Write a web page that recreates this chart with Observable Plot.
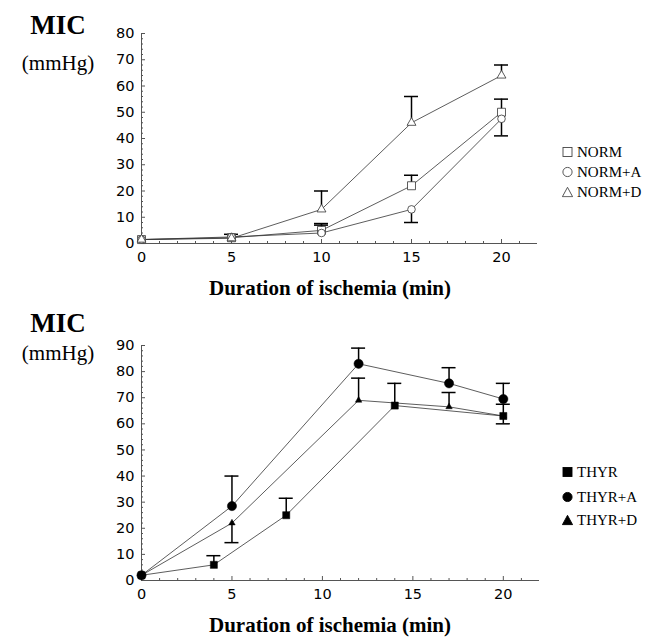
<!DOCTYPE html>
<html><head><meta charset="utf-8">
<script src="https://cdn.jsdelivr.net/npm/d3@7"></script>
<script src="https://cdn.jsdelivr.net/npm/@observablehq/plot@0.6"></script>
<style>
body{margin:0;background:#fff;}
#wrap{position:relative;width:655px;height:640px;overflow:hidden;background:#fff;}
.abs{position:absolute;white-space:nowrap;transform:translate(-50%,-50%);font-family:"Liberation Serif","Times New Roman",serif;color:#000;line-height:1;}
.mic{font-size:27px;font-weight:bold;}
.unit{font-size:21px;}
.xl{font-size:21px;font-weight:bold;}
.leg{position:absolute;font-family:"Liberation Serif","Times New Roman",serif;font-size:15px;display:flex;align-items:center;transform:translateY(-50%);white-space:nowrap;line-height:1;color:#000;}
.leg svg{margin-right:4px;display:block}
.chart{position:absolute;left:0;}
</style></head>
<body>
<div id="wrap"></div>
<script>
// ---------- data: top panel ----------
const topNames = ["NORM", "NORM+A", "NORM+D"];
const topX = [0, 5, 10, 15, 20];
const normY  = [1.5, 2.2, 5, 22, 50];
const normAY = [1.5, 2.5, 4, 13, 47.5];
const normDY = [1.5, 2, 13, 46, 64];
// error bars (x, end value)
const normErrX = [5, 10, 15, 20];
const normErrEnd = [3.5, 7.6, 26, 55];
const normAErrX = [10, 15, 20];
const normAErrEnd = [7, 8, 41];
const normDErrX = [10, 15, 20];
const normDErrEnd = [20, 56, 68];
const topYTicks = [0, 10, 20, 30, 40, 50, 60, 70, 80];
const xTicks = [0, 5, 10, 15, 20];

// ---------- data: bottom panel ----------
const botNames = ["THYR", "THYR+A", "THYR+D"];
const thyrX  = [0, 4, 8, 14, 20];
const thyrY  = [2, 6, 25, 67, 63];
const thyrAX = [0, 5, 12, 17, 20];
const thyrAY = [2, 28.5, 83, 75.5, 69.5];
const thyrDX = [0, 5, 12, 17, 20];
const thyrDY = [2, 22, 69, 66.5, 63];
const thyrErrX = [4, 8, 14, 20];
const thyrErrEnd = [9.5, 31.5, 75.5, 60];
const thyrAErrX = [5, 12, 17, 20];
const thyrAErrEnd = [40, 89, 81.5, 75.5];
const thyrDErrX = [5, 12, 17, 20];
const thyrDErrEnd = [14.5, 77.5, 72, 67.5];
const botYTicks = [0, 10, 20, 30, 40, 50, 60, 70, 80, 90];

const xLabel = "Duration of ischemia (min)";
const yTitle = "MIC";
const yUnit = "(mmHg)";

// ---------- helpers ----------
function rows(name, xs, ys) { return xs.map((x, i) => ({series: name, x, y: ys[i]})); }
function errRows(name, xs, ends, pts) {
  return xs.map((x, i) => {
    const p = pts.find(d => d.series === name && d.x === x);
    return {series: name, x, y: p.y, end: ends[i]};
  });
}
function range(a, b, s) { const r = []; for (let v = a; v <= b + 1e-9; v += s) r.push(+v.toFixed(6)); return r; }

const topPts = [...rows("NORM", topX, normY), ...rows("NORM+A", topX, normAY), ...rows("NORM+D", topX, normDY)];
const topErr = [...errRows("NORM", normErrX, normErrEnd, topPts), ...errRows("NORM+A", normAErrX, normAErrEnd, topPts), ...errRows("NORM+D", normDErrX, normDErrEnd, topPts)];
const botPts = [...rows("THYR", thyrX, thyrY), ...rows("THYR+A", thyrAX, thyrAY), ...rows("THYR+D", thyrDX, thyrDY)];
const botErr = [...errRows("THYR", thyrErrX, thyrErrEnd, botPts), ...errRows("THYR+A", thyrAErrX, thyrAErrEnd, botPts), ...errRows("THYR+D", thyrDErrX, thyrDErrEnd, botPts)];

const axisColor = "#555";
const tickFont = "DejaVu Sans, Liberation Sans, Arial, sans-serif";

function panel({pts, err, names, yMax, yTicks, height, mt, mb, mr, filled, radii}) {
  const ypx = (height - mt - mb) / yMax;
  const xpx = (655 - 141 - mr) / 22;
  const capHalf = 7 / xpx;
  const majLenY = 4 / xpx, minLenY = 2 / xpx;
  const majLenX = 4 / ypx, minLenX = 2 / ypx;
  const yMinor = range(0, yMax, 2).filter(v => !yTicks.includes(v));
  const xMinor = range(0, 21, 1).filter(v => !xTicks.includes(v));
  const symbols = ["square", "circle", "triangle"];
  const marks = [
    Plot.ruleX([0], {stroke: axisColor, strokeWidth: 1}),
    Plot.ruleY([0], {stroke: axisColor, strokeWidth: 1}),
    Plot.ruleY(yTicks, {y: d => d, x1: 0, x2: majLenY, stroke: axisColor}),
    Plot.ruleY(yMinor, {y: d => d, x1: 0, x2: minLenY, stroke: axisColor}),
    Plot.ruleX(xTicks, {x: d => d, y1: 0, y2: majLenX, stroke: axisColor}),
    Plot.ruleX(xMinor, {x: d => d, y1: 0, y2: minLenX, stroke: axisColor}),
    Plot.axisY(yTicks, {tickSize: 0, tickPadding: 7, label: null}),
    Plot.axisX(xTicks, {tickSize: 0, tickPadding: 8, label: null}),
    Plot.line(pts, {x: "x", y: "y", z: "series", stroke: "#333", strokeWidth: 0.8}),
    Plot.ruleX(err, {x: "x", y1: "y", y2: "end", stroke: "#000", strokeWidth: 1.5}),
    Plot.ruleY(err, {y: "end", x1: d => d.x - capHalf, x2: d => d.x + capHalf, stroke: "#000", strokeWidth: 1.5})
  ];
  names.forEach((n, i) => {
    marks.push(Plot.dot(pts.filter(d => d.series === n), {
      x: "x", y: "y", symbol: () => symbols[i], r: radii[i],
      fill: filled ? "#000" : "#fff", stroke: filled ? "#000" : "#333", strokeWidth: filled ? 0.5 : 0.8
    }));
  });
  return Plot.plot({
    width: 655, height,
    marginLeft: 141, marginRight: mr, marginTop: mt, marginBottom: mb,
    x: {domain: [0, 22], axis: null},
    y: {domain: [0, yMax], axis: null},
    symbol: {type: "identity"},
    style: {fontFamily: tickFont, fontSize: "14.5px", background: "#fff", color: "#000"},
    marks
  });
}

const wrap = document.getElementById("wrap");

const topSvg = panel({pts: topPts, err: topErr, names: topNames, yMax: 80, yTicks: topYTicks, height: 320, mt: 33, mb: 77, mr: 118, filled: false, radii: [4.5, 3.8, 3.3]});
topSvg.classList.add("chart"); topSvg.style.top = "0px";
wrap.appendChild(topSvg);

const botSvg = panel({pts: botPts, err: botErr, names: botNames, yMax: 90, yTicks: botYTicks, height: 320, mt: 25, mb: 60, mr: 116, filled: true, radii: [4, 4.6, 2.4]});
botSvg.classList.add("chart"); botSvg.style.top = "320px";
wrap.appendChild(botSvg);

function addText(cls, text, cx, cy) {
  const d = document.createElement("div");
  d.className = "abs " + cls; d.textContent = text;
  d.style.left = cx + "px"; d.style.top = cy + "px";
  wrap.appendChild(d);
}
addText("mic", yTitle, 58, 25);
addText("unit", yUnit, 58, 63);
addText("xl", xLabel, 330, 288);
addText("mic", yTitle, 58, 323);
addText("unit", yUnit, 58, 353);
addText("xl", xLabel, 330, 625);

function symSvg(i, filled) {
  const f = filled ? "#000" : "#fff", s = filled ? "#000" : "#444";
  const shapes = [
    `<rect x="1" y="1" width="9" height="9" fill="${f}" stroke="${s}" stroke-width="0.9"/>`,
    `<circle cx="5.5" cy="5.5" r="4.6" fill="${f}" stroke="${s}" stroke-width="0.9"/>`,
    `<polygon points="5.5,0.8 10.6,10.2 0.4,10.2" fill="${f}" stroke="${s}" stroke-width="0.9"/>`
  ];
  return `<svg width="11" height="11" viewBox="0 0 11 11">${shapes[i]}</svg>`;
}
function legend(names, filled, x, ys) {
  names.forEach((n, i) => {
    const d = document.createElement("div");
    d.className = "leg";
    d.style.left = x + "px"; d.style.top = ys[i] + "px";
    d.innerHTML = symSvg(i, filled) + `<span>${n}</span>`;
    wrap.appendChild(d);
  });
}
legend(topNames, false, 562, [152, 172, 192]);
legend(botNames, true, 562, [472, 497, 520]);
</script>
</body></html>
